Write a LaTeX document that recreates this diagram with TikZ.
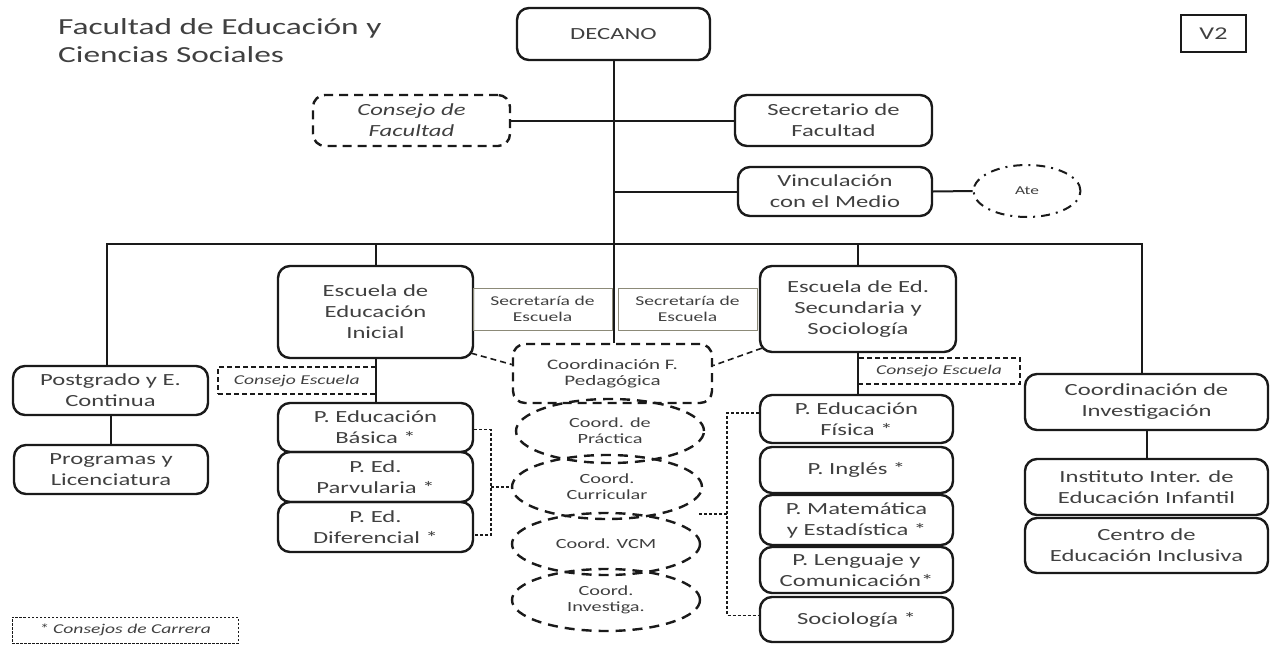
\documentclass[tikz,border=0pt]{standalone}
\usepackage{fontspec}
\setmainfont{Carlito}[FakeStretch=1.45]
\usetikzlibrary{shapes.geometric}
\definecolor{txt}{HTML}{404040}
\definecolor{ln}{HTML}{1A1A1A}
\definecolor{secc}{HTML}{8C8A78}
\newcommand\fsz[2]{\fontsize{#1}{#2}\selectfont}
\begin{document}
\begin{tikzpicture}[x=1pt,y=-1pt,
 box/.style={draw=ln, line width=2.4pt, rounded corners=12pt, align=center, inner sep=0pt, text=txt, font=\fsz{17}{21}},
 dbox/.style={box, dash pattern=on 9pt off 6pt},
 secbox/.style={draw=secc, line width=1pt, align=center, inner sep=0pt, text=txt, font=\fsz{13.5}{15.5}},
 cons/.style={draw=ln, line width=1.4pt, dash pattern=on 5pt off 3pt, inner sep=0pt, text=txt, font=\fsz{13.5}{15}\itshape},
 coord/.style={ellipse, draw=ln, line width=2.4pt, dash pattern=on 10pt off 7pt, inner sep=0pt, align=center, text=txt, font=\fsz{14}{16}},
 conn/.style={draw=ln, line width=2pt},
 dline/.style={draw=ln, line width=1.6pt, dash pattern=on 6pt off 4pt},
 dotl/.style={draw=ln, line width=1.4pt, dash pattern=on 3pt off 2pt},
 sz/.style 2 args={minimum width=#1pt, minimum height=#2pt},
 ttl/.style={anchor=base west, inner sep=0pt, text=txt, font=\fsz{23}{28}},
]
\useasboundingbox (0,0) rectangle (1277,645);

% title
\node[ttl] (title1) at (58,34) {Facultad de Educación y};
\node[ttl] (title2) at (58,62) {Ciencias Sociales};

% top
\node[box, sz={193}{52}] (decano) at (613.5,34) {DECANO};
\node[draw=ln, line width=2pt, sz={65}{37}, inner sep=0pt, text=txt, font=\fsz{18}{20}] (v2) at (1213.5,33.5) {V2};
\node[dbox, sz={197}{51}, font=\fsz{17}{21}\itshape] (cfac) at (411.5,120.5) {Consejo de\\Facultad};
\node[box, sz={197}{51}] (sfac) at (833.5,120.5) {Secretario de\\Facultad};
\node[box, sz={194}{49}] (vinc) at (835,191.5) {Vinculación\\con el Medio};
\node[ellipse, draw=ln, line width=2pt, dash pattern=on 9pt off 6pt on 2pt off 6pt, sz={107}{52}, inner sep=0pt, text=txt, font=\fsz{12}{14}] (ate) at (1027,191) {Ate};

% schools
\node[box, sz={195}{92}] (einicial) at (375.5,312) {Escuela de\\Educación\\Inicial};
\node[secbox, sz={139}{42}] (sec1) at (542.5,309) {Secretaría de\\Escuela};
\node[secbox, sz={139}{42}] (sec2) at (687.5,309) {Secretaría de\\Escuela};
\node[box, sz={196}{86}] (esec) at (858,309) {Escuela de Ed.\\Secundaria y\\Sociología};
\node[dbox, sz={199}{59}, font=\fsz{14.5}{16.5}] (cfp) at (612.5,373.5) {Coordinación F.\\Pedagógica};

% left column
\node[box, sz={195}{49}] (post) at (110.5,390.5) {Postgrado y E.\\Continua};
\node[box, sz={194}{49}] (prog) at (111,469.5) {Programas y\\Licenciatura};
\node[cons, sz={157.5}{27}] (ce1) at (296.75,380.5) {Consejo Escuela};
\node[box, sz={195}{49}] (pbas) at (375.5,427.5) {P. Educación\\Básica *};
\node[box, sz={195}{50}] (ppar) at (375.5,477) {P. Ed.\\Parvularia *};
\node[box, sz={195}{50}] (pdif) at (375.5,527) {P. Ed.\\Diferencial *};

% coordination ellipses
\node[coord, sz={188}{64}] (cprac) at (610,431) {Coord. de\\Práctica};
\node[coord, sz={190}{64}] (ccurr) at (607,487) {Coord.\\Curricular};
\node[coord, sz={188}{62}] (cvcm) at (606,544) {Coord. VCM};
\node[coord, sz={188}{62}] (cinv) at (606,600) {Coord.\\Investiga.};

% right school programs
\node[cons, sz={162}{26}] (ce2) at (939,371) {Consejo Escuela};
\node[box, sz={193}{48}] (pfis) at (856.5,419) {P. Educación\\Física *};
\node[box, sz={193}{46}] (ping) at (856.5,470) {P. Inglés *};
\node[box, sz={193}{50}] (pmat) at (856.5,520) {P. Matemática\\y Estadística *};
\node[box, sz={193}{46}] (plen) at (856.5,570) {P. Lenguaje y\\Comunicación*};
\node[box, sz={193}{45}] (psoc) at (856.5,619.5) {Sociología *};

% research
\node[box, sz={243}{56}] (cinvest) at (1146.5,402) {Coordinación de\\Investigación};
\node[box, sz={243}{56}] (iiei) at (1146.5,487) {Instituto Inter. de\\Educación Infantil};
\node[box, sz={243}{55}] (cei) at (1146.5,545.5) {Centro de\\Educación Inclusiva};

% legend
\node[draw=ln, line width=1pt, dash pattern=on 2.5pt off 1.5pt, sz={226}{26}, inner sep=0pt, text=txt, font=\fsz{13.5}{15}\itshape] (legend) at (125,630) {* Consejos de Carrera};

% connectors
\coordinate (busL) at (107,244);
\coordinate (busR) at (1142,244);
\draw[conn] (decano.south) -- (decano.south |- cfp.north);
\draw[conn] (cfac.east) -- (sfac.west);
\draw[conn] (decano.south |- vinc.west) -- (vinc.west);
\draw[conn] (vinc.east) -- (ate.west);
\draw[conn] (busL |- post.north) -- (busL) -- (busR) -- (busR |- cinvest.north);
\draw[conn] (einicial.north |- busL) -- (einicial.north);
\draw[conn] (esec.north |- busL) -- (esec.north);
\draw[conn] (einicial.south) -- (pbas.north);
\draw[conn] (esec.south) -- (esec.south |- pfis.north);
\draw[conn] (post.south) -- (post.south |- prog.north);
\draw[conn] (cinvest.south) -- (iiei.north);

\draw[dline] ([xshift=-3pt,yshift=6pt]einicial.south east) -- ([yshift=9pt]cfp.west);
\draw[dline] ([xshift=3pt,yshift=5pt]esec.south west) -- ([yshift=8pt]cfp.east);

\coordinate (lb) at (491,0);
\draw[dotl] ([yshift=-2pt]pbas.east) -- ([yshift=-2pt]pbas.east -| lb) -- ([yshift=-8pt]pdif.east -| lb) -- ([yshift=-8pt]pdif.east);
\draw[dotl] (lb |- ccurr.west) -- (ccurr.west);

\coordinate (rb) at (727,0);
\draw[dotl] ([yshift=6pt]pfis.west) -- ([yshift=6pt]pfis.west -| rb) -- ([yshift=4pt]psoc.west -| rb) -- ([yshift=4pt]psoc.west);
\coordinate (rbm) at (699,514);
\draw[dotl] (rbm) -- (rb |- rbm);
\end{tikzpicture}
\end{document}
